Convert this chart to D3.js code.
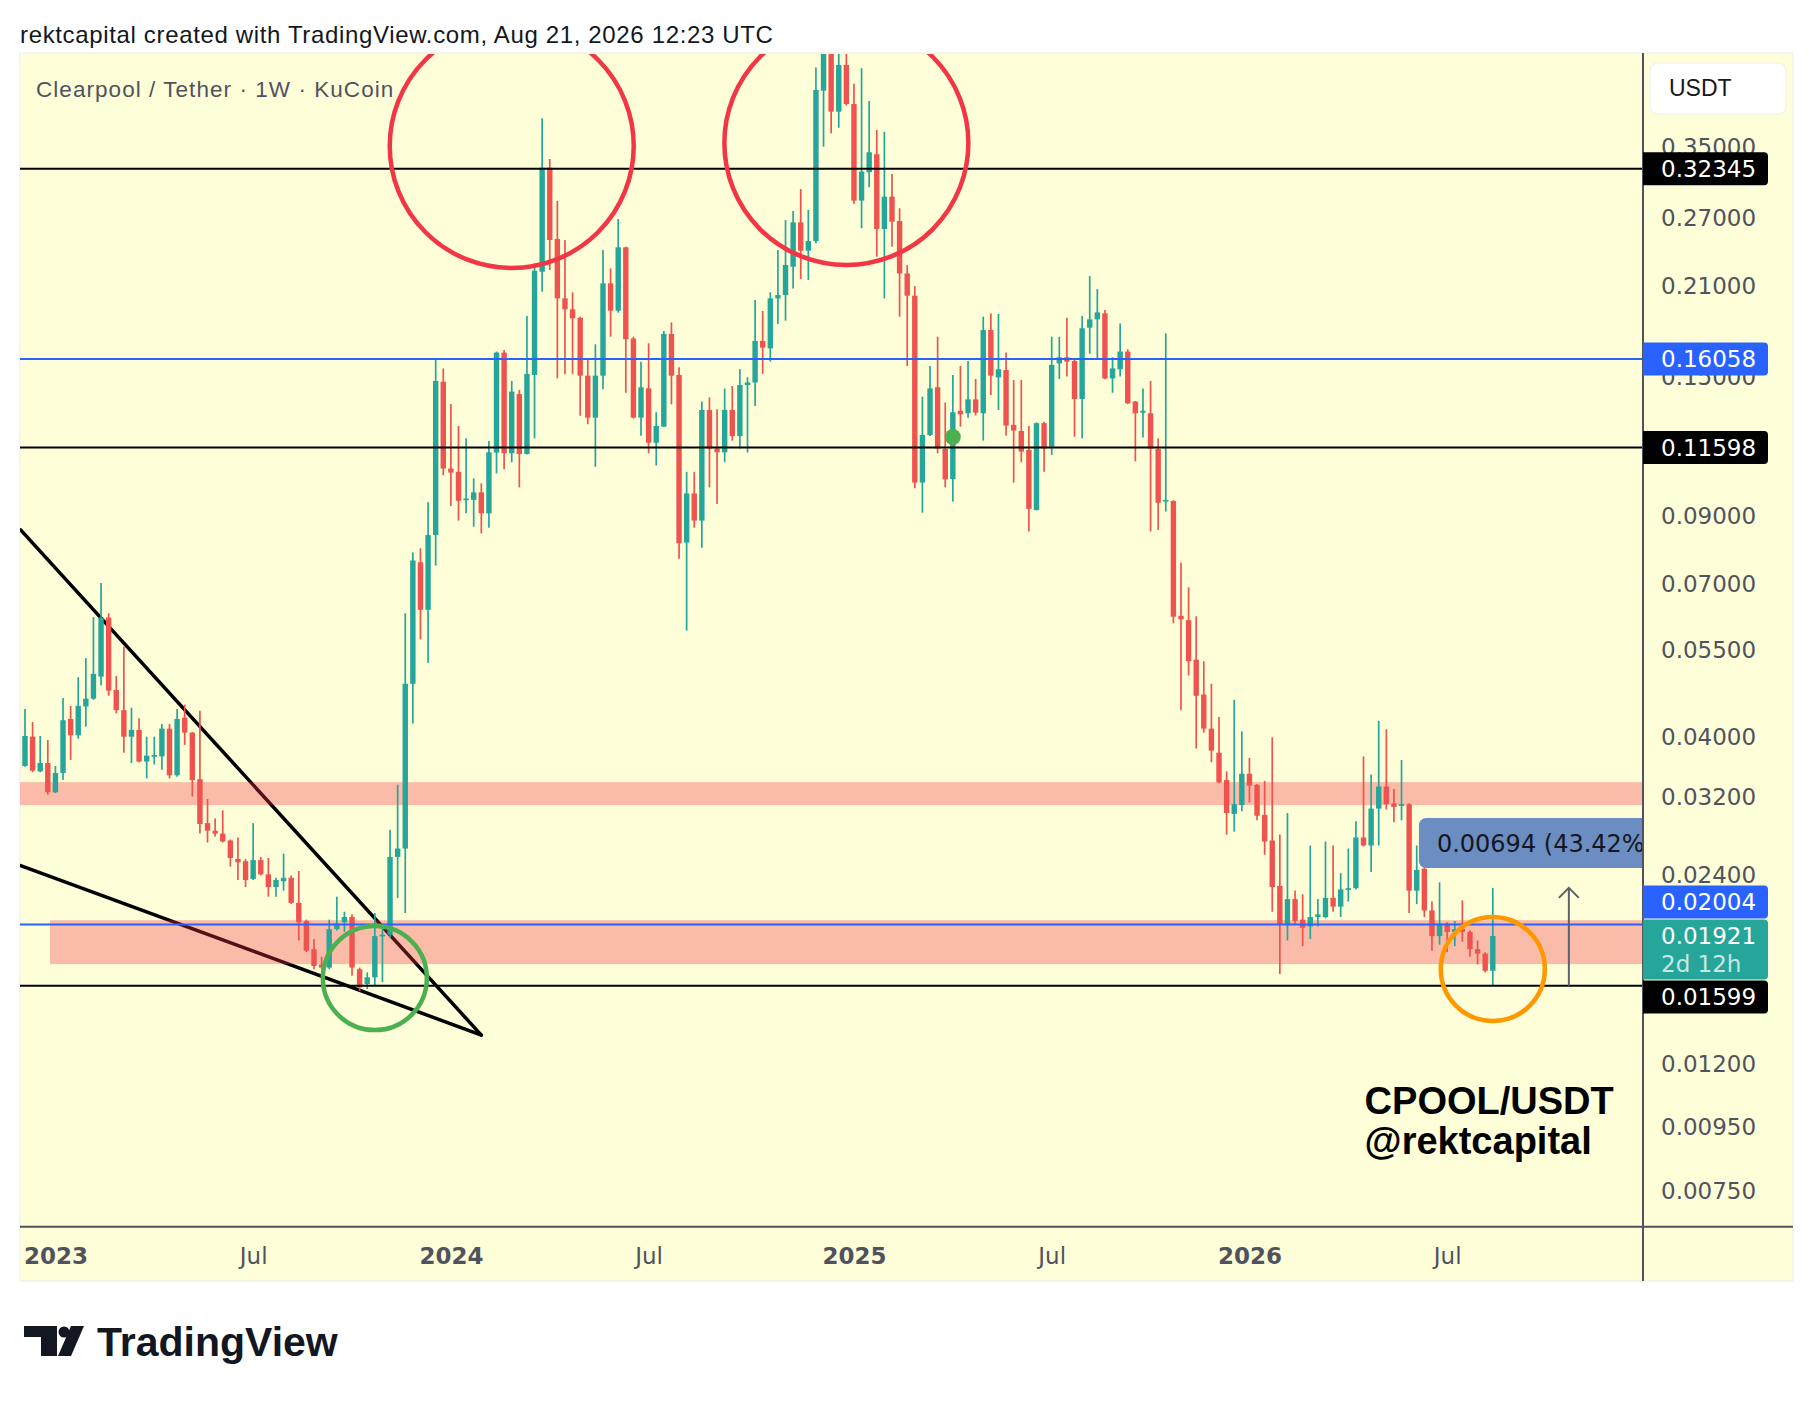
<!DOCTYPE html>
<html lang="en">
<head>
<meta charset="UTF-8">
<title>Clearpool / Tether 1W</title>
<script src="https://d3js.org/d3.v7.min.js"></script>
<style>
  body { margin: 0; background: #fff; }
</style>
</head>
<body>
<div id="chart"></div>
<script>
// weekly candles, first bar opens on 2022-12-05
const firstWeek = "2022-12-05";

const opens = [
  .0359,.0400,.0352,.0363,.0326,.0350,.0427,.0402,.0447,.0460,
  .0499,.0620,.0475,.0441,.0400,.0410,.0365,.0372,.0372,.0412,
  .0347,.0429,.0406,.0342,.0291,.0283,.0280,.0273,.0255,.0253,
  .0237,.0254,.0241,.0230,.0235,.0238,.0217,.0203,.0183,.0173,
  .0171,.0197,.0202,.0206,.0170,.0161,.0165,.0192,.0193,.0257,
  .0265,.0486,.0760,.0638,.0840,.1477,.1073,.1060,.0956,.0956,
  .0983,.0910,.1138,.1644,.1135,.1411,.1132,.1514,.2214,.3247,
  .2497,.2007,.1928,.1869,.1510,.1294,.1510,.2121,.1918,.2422,
  .1731,.1294,.1441,.1180,.1252,.1761,.1514,.0817,.0979,.0886,
  .1331,.1155,.1139,.1331,.1209,.1459,.1473,.1716,.1670,.2007,
  .2032,.2255,.2655,.2392,.2479,.4311,.5200,.3990,.4738,.4104,
  .2876,.3193,.3411,.2591,.2918,.2668,.2200,.2027,.1019,.1214,
  .1447,.1153,.1032,.1327,.1315,.1384,.1315,.1786,.1501,.1542,
  .1260,.1232,.1149,.0921,.1268,.1163,.1580,.1616,.1594,.1386,
  .1802,.1858,.1899,.1495,.1546,.1650,.1373,.1318,.1315,.1153,
  .0950,.0952,.0624,.0614,.0531,.0467,.0412,.0377,.0341,.0301,
  .0311,.0349,.0335,.0300,.0273,.0231,.0200,.0220,.0204,.0199,
  .0206,.0206,.0221,.0214,.0228,.0229,.0276,.0268,.0307,.0333,
  .0313,.0310,.0312,.0227,.0246,.0211,.0192,.0201,.0195,.0197,
  .0195,.0183,.0180,.0169
];
const highs = [
  .0443,.0422,.0401,.0395,.0359,.0461,.0448,.0498,.0534,.0621,
  .0704,.0630,.0500,.0557,.0445,.0428,.0400,.0400,.0419,.0419,
  .0443,.0450,.0407,.0440,.0318,.0296,.0305,.0274,.0276,.0255,
  .0291,.0257,.0256,.0238,.0260,.0240,.0244,.0204,.0190,.0178,
  .0204,.0222,.0210,.0208,.0171,.0168,.0209,.0200,.0284,.0335,
  .0630,.0788,.0800,.0948,.1600,.1551,.1361,.1255,.1199,.1035,
  .1016,.1187,.1650,.1660,.1481,.1433,.1881,.2283,.3893,.3352,
  .2872,.2488,.2052,.1876,.1604,.1695,.2398,.2241,.2688,.2428,
  .1743,.1590,.1701,.1320,.1780,.1837,.1557,.1060,.1060,.1373,
  .1394,.1334,.1441,.1454,.1546,.1501,.1995,.1916,.2052,.2398,
  .2678,.2769,.3002,.2779,.4692,.5800,.6000,.5000,.4950,.4420,
  .4680,.4150,.3729,.3706,.3172,.2796,.2269,.2100,.1398,.1565,
  .1743,.1368,.1514,.1565,.1594,.1492,.1876,.1899,.1895,.1644,
  .1486,.1486,.1255,.1271,.1275,.1743,.1743,.1869,.1600,.1881,
  .2179,.2077,.1923,.1616,.1830,.1664,.1376,.1441,.1481,.1199,
  .1765,.0955,.0759,.0693,.0623,.0528,.0486,.0430,.0352,.0458,
  .0408,.0370,.0336,.0340,.0399,.0279,.0302,.0227,.0224,.0268,
  .0220,.0272,.0268,.0242,.0265,.0293,.0372,.0348,.0424,.0411,
  .0330,.0367,.0313,.0268,.0249,.0218,.0234,.0202,.0203,.0219,
  .0196,.0189,.0181,.02293
];
const lows = [
  .0358,.0351,.0351,.0323,.0325,.0341,.0367,.0397,.0415,.0458,
  .0483,.0465,.0436,.0377,.0363,.0364,.0343,.0361,.0354,.0343,
  .0345,.0388,.0321,.0280,.0271,.0277,.0271,.0248,.0236,.0230,
  .0236,.0240,.0222,.0222,.0227,.0216,.0189,.0181,.0170,.0170,
  .0170,.0196,.0195,.0166,.0157,.0158,.0160,.0162,.0191,.0221,
  .0209,.0420,.0572,.0525,.0751,.1047,.0935,.0886,.0910,.0866,
  .0845,.0863,.1054,.1070,.1098,.1001,.1130,.1199,.2057,.2228,
  .1495,.1518,.1518,.1303,.1263,.1080,.1436,.1743,.1904,.1418,
  .1290,.1211,.1135,.1085,.1250,.1359,.0770,.0591,.0863,.0802,
  .1001,.0942,.1098,.1189,.1155,.1138,.1351,.1520,.1590,.1826,
  .1849,.2082,.2155,.2147,.2458,.3508,.3684,.3761,.4080,.2841,
  .2597,.3020,.2340,.2007,.2428,.1876,.1565,.0998,.0912,.1209,
  .1135,.1001,.0950,.1252,.1294,.1304,.1189,.1406,.1331,.1211,
  .1019,.1098,.0851,.0920,.1060,.1128,.1492,.1505,.1206,.1199,
  .1637,.1600,.1490,.1418,.1505,.1360,.1102,.1203,.0851,.0856,
  .0916,.0607,.0441,.0501,.0383,.0406,.0364,.0337,.0279,.0282,
  .0304,.0314,.0294,.0259,.0210,.0167,.0189,.0201,.0185,.0190,
  .0199,.0205,.0210,.0206,.0218,.0228,.0267,.0243,.0268,.0306,
  .0292,.0294,.0209,.0216,.0206,.0182,.0186,.0181,.0185,.0188,
  .0178,.0173,.0168,.0160
];
const closes = [
  .0401,.0353,.0363,.0326,.0350,.0425,.0402,.0448,.0460,.0504,
  .0620,.0474,.0441,.0400,.0410,.0365,.0373,.0374,.0412,.0347,
  .0427,.0406,.0341,.0290,.0283,.0280,.0272,.0256,.0252,.0236,
  .0254,.0241,.0230,.0236,.0238,.0217,.0202,.0182,.0172,.0171,
  .0197,.0201,.0206,.0171,.0159,.0165,.0192,.0193,.0257,.0265,
  .0486,.0765,.0638,.0840,.1481,.1073,.1057,.0953,.0961,.0983,
  .0910,.1139,.1644,.1135,.1424,.1132,.1520,.2222,.3247,.2488,
  .2007,.1928,.1865,.1510,.1294,.1510,.2121,.1918,.2422,.1727,
  .1294,.1447,.1180,.1255,.1761,.1510,.0815,.0979,.0886,.1331,
  .1155,.1139,.1331,.1209,.1459,.1473,.1716,.1674,.2007,.2032,
  .2269,.2655,.2392,.2479,.4321,.5200,.3990,.4738,.4104,.2876,
  .3200,.3436,.2591,.2918,.2662,.2200,.2027,.1019,.1214,.1441,
  .1155,.1031,.1320,.1310,.1384,.1318,.1786,.1510,.1546,.1257,
  .1234,.1142,.0925,.1268,.1155,.1571,.1616,.1590,.1386,.1798,
  .1858,.1906,.1495,.1551,.1650,.1364,.1315,.1327,.1155,.0946,
  .0956,.0622,.0616,.0528,.0465,.0412,.0380,.0338,.0302,.0312,
  .0349,.0334,.0299,.0272,.0230,.0200,.0220,.0203,.0198,.0206,
  .0208,.0221,.0214,.0228,.0229,.0276,.0268,.0307,.0333,.0312,
  .0309,.0312,.0227,.0245,.0211,.0192,.0201,.0195,.0197,.0195,
  .0183,.0180,.0169,.01921
];

// axis ticks (the ones hidden under the price labels are left out)
const priceTicks = [0.35, 0.27, 0.21, 0.15, 0.09, 0.07, 0.055, 0.04, 0.032,
                    0.024, 0.012, 0.0095, 0.0075];
const timeTickDates = ["2023-01-02", "2023-07-03", "2024-01-01", "2024-07-01",
                       "2025-01-06", "2025-07-07", "2026-01-05", "2026-07-06"];
const timeTickLabels = ["2023", "Jul", "2024", "Jul", "2025", "Jul", "2026", "Jul"];

// drawings
const blackLevels = [0.32345, 0.11598, 0.01599];
const blueLevels = [0.16058, 0.02004];
const zoneStarts = ["2022-11-20", "2022-12-28"];
const zoneTops = [0.03384, 0.02036];
const zoneBottoms = [0.03109, 0.01732];
const wedgeStarts = [["2022-12-01", 0.0856], ["2022-12-01", 0.02489]];
const wedgeEnd = ["2024-01-29", 0.01334];
const topCircles = [["2024-02-26", 0.3516], ["2024-12-30", 0.3555]];
const greenCircle = ["2023-10-23", 0.01645];
const orangeCircle = ["2026-08-17", 0.01701];
const greenDot = ["2025-04-07", 0.1205];
const measureFrom = 0.01599, measureTo = 0.02293;
const measureArrowDate = "2026-10-26";
const measureBox = ["2026-06-10", "2027-03-01", 0.02964, 0.02466];
const measureText = "0.00694 (43.42%)";
const lastPrice = 0.01921, countdown = "2d 12h";
const watermarkAt = ["2026-04-21", 0.00996];

const W = 1814, H = 1402;
const plot = { left: 20, right: 1643, top: 54, bottom: 1226.7 };
const panel = { left: 20, right: 1793, top: 53, bottom: 1281 };
const bg = "#fefed8", up = "#26a69a", down = "#ef5350", blue = "#2962ff";
const axisText = "#50535e", mono = "'DejaVu Sans', sans-serif", ui = "'Liberation Sans', Arial, sans-serif";

const parse = d3.utcParse("%Y-%m-%d");
const t0 = parse(firstWeek);
const weeks = opens.map((_, i) => d3.utcDay.offset(t0, 7 * i));
const candles = weeks.map((d, i) => ({ date: d, o: opens[i], h: highs[i], l: lows[i], c: closes[i] }));

const x = d3.scaleUtc()
    .domain([weeks[0], weeks[weeks.length - 1]])
    .range([25, 1492.8]);
const y = d3.scaleLog()
    .domain([0.00659, 0.4933])
    .range([plot.bottom, plot.top]);

const svg = d3.select("#chart").append("svg")
    .attr("width", W).attr("height", H)
    .style("display", "block");

svg.append("rect").attr("width", W).attr("height", H).attr("fill", "#fff");

svg.append("text")
    .attr("x", 20).attr("y", 43)
    .attr("font-family", ui).attr("font-size", 24).attr("letter-spacing", 0.65)
    .attr("fill", "#131722")
    .text("rektcapital created with TradingView.com, Aug 21, 2026 12:23 UTC");

svg.append("rect")
    .attr("x", panel.left).attr("y", panel.top)
    .attr("width", panel.right - panel.left).attr("height", panel.bottom - panel.top)
    .attr("fill", bg).attr("stroke", "#ececec").attr("stroke-width", 1);

svg.append("clipPath").attr("id", "plot-clip")
    .append("rect")
    .attr("x", plot.left).attr("y", plot.top)
    .attr("width", plot.right - plot.left).attr("height", plot.bottom - plot.top);

const g = svg.append("g").attr("clip-path", "url(#plot-clip)");

// falling wedge
g.selectAll("line.wedge")
    .data(wedgeStarts)
    .join("line")
    .attr("class", "wedge")
    .attr("x1", d => x(parse(d[0]))).attr("y1", d => y(d[1]))
    .attr("x2", x(parse(wedgeEnd[0]))).attr("y2", y(wedgeEnd[1]))
    .attr("stroke", "#000").attr("stroke-width", 3.5).attr("stroke-linecap", "round");

// support / resistance zones
g.selectAll("rect.zone")
    .data(zoneStarts.map((s, i) => ({ start: parse(s), top: zoneTops[i], bottom: zoneBottoms[i] })))
    .join("rect")
    .attr("class", "zone")
    .attr("x", d => x(d.start))
    .attr("y", d => y(d.top))
    .attr("width", d => plot.right + 10 - x(d.start))
    .attr("height", d => y(d.bottom) - y(d.top))
    .attr("fill", "rgba(242, 54, 69, 0.33)");

// candles
const bodyW = 5.4;
g.selectAll("line.wick")
    .data(candles)
    .join("line")
    .attr("class", "wick")
    .attr("x1", d => x(d.date)).attr("x2", d => x(d.date))
    .attr("y1", d => y(d.h)).attr("y2", d => y(d.l))
    .attr("stroke", d => d.c >= d.o ? up : down)
    .attr("stroke-width", 1.7);

g.selectAll("rect.body")
    .data(candles)
    .join("rect")
    .attr("class", "body")
    .attr("x", d => x(d.date) - bodyW / 2)
    .attr("y", d => y(Math.max(d.o, d.c)))
    .attr("width", bodyW)
    .attr("height", d => Math.max(1.7, Math.abs(y(d.o) - y(d.c))))
    .attr("fill", d => d.c >= d.o ? up : down);

// horizontal levels
g.selectAll("line.black-level")
    .data(blackLevels)
    .join("line")
    .attr("x1", plot.left).attr("x2", plot.right)
    .attr("y1", d => y(d)).attr("y2", d => y(d))
    .attr("stroke", "#000").attr("stroke-width", 2);

g.selectAll("line.blue-level")
    .data(blueLevels)
    .join("line")
    .attr("x1", plot.left).attr("x2", plot.right)
    .attr("y1", d => y(d)).attr("y2", d => y(d))
    .attr("stroke", blue).attr("stroke-width", 2);

// circles
g.selectAll("circle.top")
    .data(topCircles)
    .join("circle")
    .attr("cx", d => x(parse(d[0]))).attr("cy", d => y(d[1]))
    .attr("r", 122)
    .attr("fill", "none").attr("stroke", "#f23645").attr("stroke-width", 4.5);

g.append("circle")
    .attr("cx", x(parse(greenCircle[0]))).attr("cy", y(greenCircle[1]))
    .attr("r", 52)
    .attr("fill", "none").attr("stroke", "#4caf50").attr("stroke-width", 4.5);

g.append("circle")
    .attr("cx", x(parse(orangeCircle[0]))).attr("cy", y(orangeCircle[1]))
    .attr("r", 52)
    .attr("fill", "none").attr("stroke", "#ff9800").attr("stroke-width", 4.5);

g.append("circle")
    .attr("cx", x(parse(greenDot[0]))).attr("cy", y(greenDot[1]))
    .attr("r", 8).attr("fill", "#4caf50");

// measure tool
const ax = x(parse(measureArrowDate));
g.append("line")
    .attr("x1", ax).attr("x2", ax)
    .attr("y1", y(measureFrom)).attr("y2", y(measureTo))
    .attr("stroke", "#5d606b").attr("stroke-width", 2);
g.append("path")
    .attr("d", `M${ax - 10},${y(measureTo) + 10} L${ax},${y(measureTo)} L${ax + 10},${y(measureTo) + 10}`)
    .attr("fill", "none").attr("stroke", "#5d606b").attr("stroke-width", 2);

const mbx = x(parse(measureBox[0]));
g.append("rect")
    .attr("x", mbx).attr("y", y(measureBox[2]))
    .attr("width", x(parse(measureBox[1])) - mbx)
    .attr("height", y(measureBox[3]) - y(measureBox[2]))
    .attr("rx", 7)
    .attr("fill", "#6b8dc1");
g.append("text")
    .attr("x", mbx + 18)
    .attr("y", (y(measureBox[2]) + y(measureBox[3])) / 2)
    .attr("dy", "0.36em")
    .attr("font-family", mono).attr("font-size", 24)
    .attr("fill", "#131722")
    .text(measureText);

// watermark text
const wx = x(parse(watermarkAt[0])), wy = y(watermarkAt[1]);
g.append("text").attr("x", wx).attr("y", wy)
    .attr("font-family", ui).attr("font-weight", "bold").attr("font-size", 38)
    .attr("fill", "#000").text("CPOOL/USDT");
g.append("text").attr("x", wx).attr("y", wy + 40)
    .attr("font-family", ui).attr("font-weight", "bold").attr("font-size", 38)
    .attr("fill", "#000").text("@rektcapital");

// legend
svg.append("text")
    .attr("x", 36).attr("y", 97)
    .attr("font-family", ui).attr("font-size", 22.5).attr("letter-spacing", 1.05)
    .attr("fill", axisText)
    .text("Clearpool / Tether · 1W · KuCoin");

// axis borders
svg.append("line")
    .attr("x1", plot.right).attr("x2", plot.right)
    .attr("y1", panel.top).attr("y2", panel.bottom)
    .attr("stroke", axisText).attr("stroke-width", 2);
svg.append("line")
    .attr("x1", panel.left).attr("x2", panel.right)
    .attr("y1", plot.bottom).attr("y2", plot.bottom)
    .attr("stroke", axisText).attr("stroke-width", 2);

// price axis
const yAxis = svg.append("g")
    .attr("transform", `translate(${plot.right},0)`)
    .call(d3.axisRight(y).tickValues(priceTicks).tickFormat(d3.format(".5f")).tickSize(0).tickPadding(18));
yAxis.select(".domain").remove();
yAxis.selectAll("text")
    .attr("font-family", mono).attr("font-size", 23)
    .attr("fill", axisText);

// price labels on the axis
const labelH = 33, labelW = 125;
function priceLabel(cy, fill, lines, h) {
    const lg = svg.append("g");
    lg.append("path")
        .attr("d", `M${plot.right},${cy} h${labelW - 4} a4,4 0 0 1 4,4 v${h - 8} a4,4 0 0 1 -4,4 h${-(labelW - 4)} z`)
        .attr("fill", fill);
    lines.forEach((ln, i) => {
        lg.append("text")
            .attr("x", plot.right + 18).attr("y", cy + 16.5 + i * 28)
            .attr("dy", "0.36em")
            .attr("font-family", mono).attr("font-size", 23)
            .attr("fill", ln.color)
            .text(ln.text);
    });
}
const fmt = d3.format(".5f");
blackLevels.concat(blueLevels).forEach(p => {
    let top = y(p) - labelH / 2;
    const curTop = y(lastPrice) - 16.5, curBottom = curTop + 60;
    if (top + labelH > curTop && top < curBottom) {
        top = p > lastPrice ? curTop - labelH - 1 : curBottom + 1;
    }
    priceLabel(top, blueLevels.includes(p) ? blue : "#000", [{ text: fmt(p), color: "#fff" }], labelH);
});
priceLabel(y(lastPrice) - 16.5, up,
    [{ text: fmt(lastPrice), color: "#fff" }, { text: countdown, color: "rgba(255,255,255,0.75)" }], 60);

// time axis
const xAxis = svg.append("g")
    .attr("transform", `translate(0,${plot.bottom})`)
    .call(d3.axisBottom(x).tickValues(timeTickDates.map(parse))
        .tickFormat((d, i) => timeTickLabels[i]).tickSize(0).tickPadding(21));
xAxis.select(".domain").remove();
xAxis.selectAll("text")
    .attr("font-family", mono).attr("font-size", 23)
    .attr("font-weight", (d, i) => /^\d+$/.test(timeTickLabels[i]) ? "bold" : "normal")
    .attr("fill", axisText);

// currency button
svg.append("rect")
    .attr("x", 1650).attr("y", 63).attr("width", 136).attr("height", 51).attr("rx", 8)
    .attr("fill", "#fff").attr("stroke", "#f0f0ee");
svg.append("text")
    .attr("x", 1669).attr("y", 96)
    .attr("font-family", ui).attr("font-size", 23).attr("fill", "#131722")
    .text("USDT");

// TradingView logo
const logo = svg.append("g").attr("fill", "#131722");
logo.append("path").attr("d", "M24,1326 H57 V1356 H41 V1337 H24 Z");
logo.append("circle").attr("cx", 64).attr("cy", 1332).attr("r", 5.5);
logo.append("path").attr("d", "M71,1326 H84 L71,1356 H58 Z");
logo.append("text")
    .attr("x", 97).attr("y", 1356)
    .attr("font-family", ui).attr("font-weight", "bold").attr("font-size", 41)
    .text("TradingView");
</script>
</body>
</html>
